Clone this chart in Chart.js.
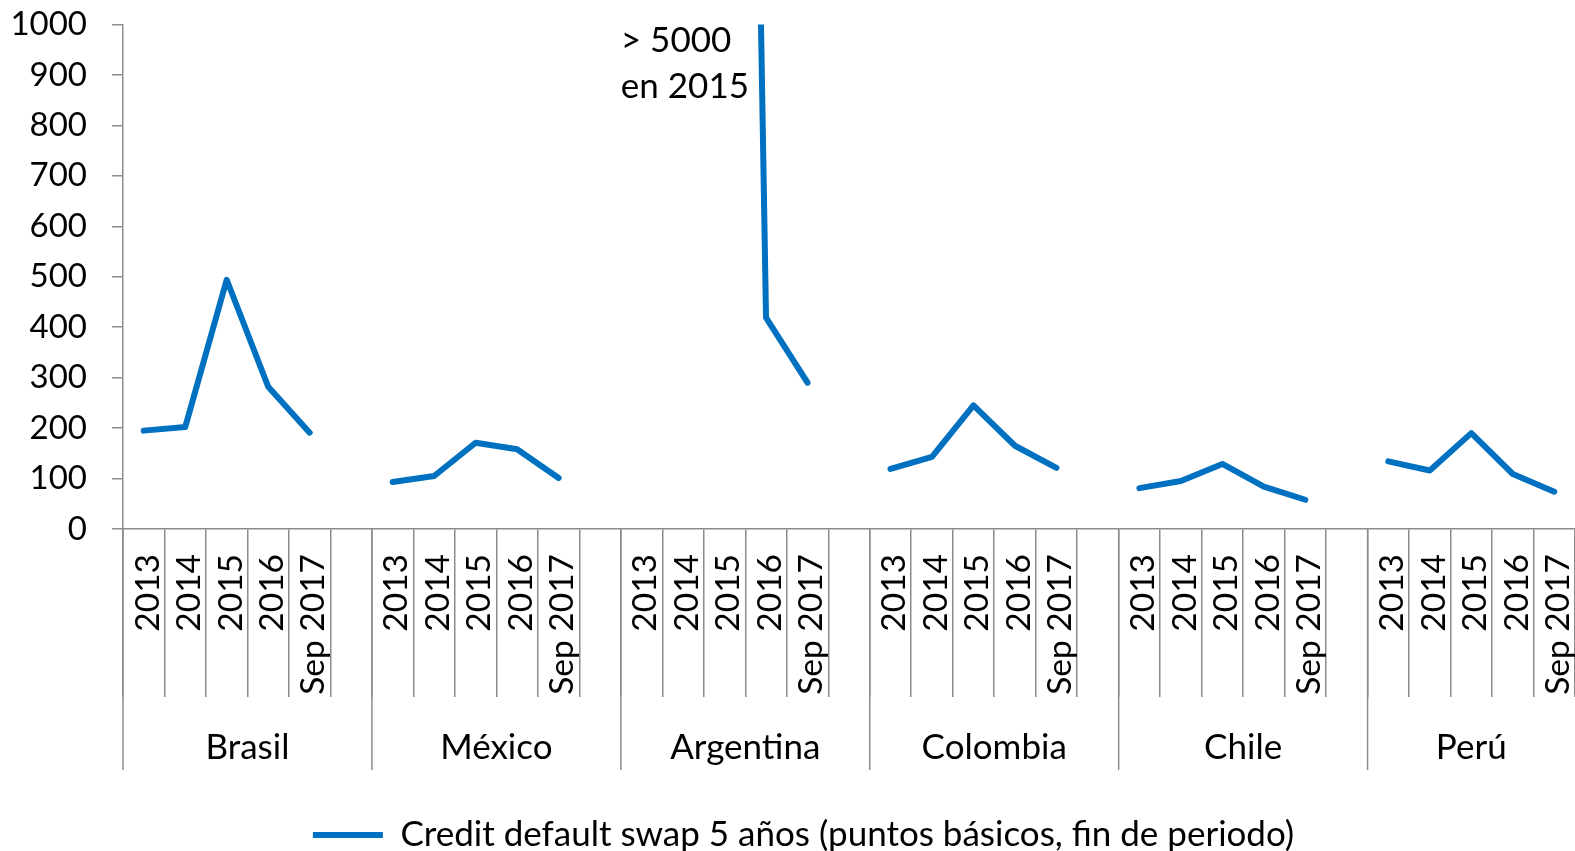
<!DOCTYPE html>
<html lang="es">
<head>
<meta charset="utf-8">
<title>Credit default swap 5 años</title>
<script src="https://cdn.jsdelivr.net/npm/chart.js@4/dist/chart.umd.min.js"></script>
<style>
  html, body { margin: 0; padding: 0; background: #fff; overflow: hidden; }
  #wrap { position: relative; width: 1575px; height: 851px; }
</style>
</head>
<body>
<div id="wrap"><canvas id="cds-chart"></canvas></div>
<script>
// data (puntos básicos, fin de periodo)
var countries = ["Brasil", "México", "Argentina", "Colombia", "Chile", "Perú"];
var periods = ["2013", "2014", "2015", "2016", "Sep 2017"];
var brasil = [195, 202, 494, 282, 191];
var mexico = [93, 105, 171, 158, 101];
var argentina = [null, null, 5200, 419, 290];
var colombia = [119, 143, 245, 165, 121];
var chile = [81, 95, 129, 84, 58];
var peru = [134, 116, 190, 109, 74];
var seriesLabel = "Credit default swap 5 años (puntos básicos, fin de periodo)";
var yMax = 1000;
var yStep = 100;
var note = ["> 5000", "en 2015"];

var gridColor = "#8c8c8c";
var blue = "#0070c0";
var numSize = 33; // digits on the axes
var wordSize = 35; // country names, note, legend

// one empty slot between countries, like the original category axis
var byCountry = [brasil, mexico, argentina, colombia, chile, peru];
var labels = [],
  values = [];
countries.forEach(function (c, i) {
  if (i > 0) {
    labels.push("");
    values.push(null);
  }
  periods.forEach(function (p, j) {
    labels.push(p);
    values.push(byCountry[i][j]);
  });
});

// second level of the x axis: country names + long separators, and the note
var groupAxis = {
  id: "groupAxis",
  afterLayout: function (chart) {
    // legend sits a bit right of the canvas centre in the original
    chart.legend.left += 14;
    chart.legend.right += 14;
  },
  afterDraw: function (chart) {
    var ctx = chart.ctx,
      x = chart.scales.x,
      y = chart.scales.y,
      half = (x.getPixelForValue(1) - x.getPixelForValue(0)) / 2,
      last = labels.length - 1,
      base = chart.chartArea.bottom;
    ctx.save();
    ctx.strokeStyle = gridColor;
    ctx.lineWidth = 1.5;
    ctx.fillStyle = "#000";
    ctx.font = wordSize + "px Lato";
    ctx.textAlign = "center";
    ctx.textBaseline = "middle";
    countries.forEach(function (c, i) {
      var first = i * (periods.length + 1),
        end = Math.min(first + periods.length, last),
        left = x.getPixelForValue(first) - half,
        right = x.getPixelForValue(end) + half;
      ctx.beginPath();
      ctx.moveTo(left, base);
      ctx.lineTo(left, base + 241);
      ctx.stroke();
      ctx.fillText(c, (left + right) / 2, base + 219);
    });
    var ax = x.getPixelForValue(2 * (periods.length + 1)) - half;
    ctx.textAlign = "left";
    ctx.fillText(note[0], ax, y.getPixelForValue(yMax) + 16);
    ctx.fillText(note[1], ax, y.getPixelForValue(yMax) + 62);
    ctx.restore();
  },
};

Chart.defaults.font.family = "Lato, 'Open Sans', sans-serif";
Chart.defaults.color = "#000";

new Chart(document.getElementById("cds-chart"), {
  type: "line",
  data: {
    labels: labels,
    datasets: [
      {
        label: seriesLabel,
        data: values,
        borderColor: blue,
        backgroundColor: blue,
        borderWidth: 6,
        borderCapStyle: "round",
        borderJoinStyle: "round",
        pointRadius: 0,
        pointHoverRadius: 0,
        tension: 0,
        spanGaps: false,
        clip: { left: false, top: 0, right: false, bottom: false },
      },
    ],
  },
  options: {
    responsive: true,
    maintainAspectRatio: false,
    animation: false,
    layout: { padding: { left: 0, right: -4, top: 24.5, bottom: -11.5 } },
    plugins: {
      legend: {
        position: "bottom",
        labels: {
          usePointStyle: true,
          pointStyle: "line",
          pointStyleWidth: 70,
          padding: 0,
          color: "#000",
          font: { size: wordSize },
        },
      },
      tooltip: { enabled: false },
    },
    scales: {
      x: {
        offset: true,
        grid: {
          offset: true,
          drawOnChartArea: false,
          tickLength: 168,
          color: gridColor,
          lineWidth: 1.5,
        },
        border: { color: gridColor, width: 1.5 },
        ticks: {
          autoSkip: false,
          minRotation: 90,
          maxRotation: 90,
          padding: -143,
          labelOffset: 4,
          color: "#000",
          font: { size: 33.5 },
        },
        afterFit: function (s) {
          s.height = 288.5;
        },
      },
      y: {
        min: 0,
        max: yMax,
        ticks: {
          stepSize: yStep,
          padding: 25,
          color: "#000",
          font: { size: numSize },
          callback: function (v) {
            return String(v);
          },
        },
        grid: { drawOnChartArea: false, tickLength: 11, color: gridColor, lineWidth: 1.5 },
        border: { color: gridColor, width: 1.5 },
        afterFit: function (s) {
          s.width = 123;
          s.paddingTop = 0;
          s.paddingBottom = 0;
        },
      },
    },
  },
  plugins: [groupAxis],
});
</script>
</body>
</html>
